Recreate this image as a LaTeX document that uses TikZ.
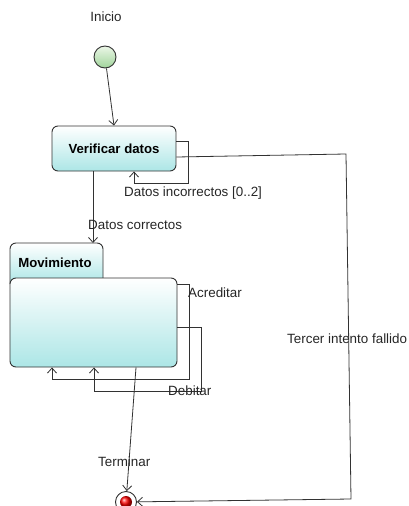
\documentclass[tikz,border=0pt]{standalone}
\usepackage{fontspec}
\setmainfont{Liberation Sans}
\usetikzlibrary{arrows.meta,calc}
\definecolor{edge}{RGB}{50,50,50}
\definecolor{cyanlow}{RGB}{172,230,230}
\definecolor{greenlow}{RGB}{160,212,155}
\definecolor{greenhigh}{RGB}{236,247,232}
\tikzset{
  x=1pt, y=-1pt,
  lbl/.style={font=\fontsize{13.4}{15}\selectfont, inner sep=0pt, anchor=west, text=black!85},
  statebox/.style={draw=edge, line width=0.9pt, rounded corners=6pt, top color=white, bottom color=cyanlow, font=\fontsize{13.2}{15}\selectfont\bfseries},
  arr/.style={draw=edge, line width=0.8pt, -{Straight Barb[length=5pt,width=9pt]}},
}
\begin{document}
\begin{tikzpicture}
\useasboundingbox (0,0) rectangle (409,506);
% texts
\node[lbl, anchor=center] (tinicio) at (106,17) {Inicio};
% initial
\node[circle, draw=edge, line width=0.9pt, minimum size=22pt, inner sep=0pt, top color=greenhigh, bottom color=greenlow] (ini) at (105,57) {};
% Verificar
\node[statebox, minimum width=124pt, minimum height=45pt, inner sep=0pt] (verif) at (114,148.5) {Verificar datos};
% Movimiento tab
\path[draw=edge, line width=0.9pt, top color=white, bottom color=cyanlow, rounded corners=6pt] (10,284) -- (10,243) -- (103,243) -- (103,284);
\node[font=\fontsize{13.2}{15}\selectfont\bfseries, inner sep=0pt] (movtab) at (55,263) {Movimiento};
\coordinate (movtop) at (93,243);
% Movimiento body
\node[statebox, minimum width=167pt, minimum height=89pt, inner sep=0pt] (mov) at (93.5,322.5) {};
% final
\node[circle, draw=edge, line width=0.9pt, fill=white, minimum size=21pt, inner sep=0pt] (fin) at (126,502) {};
\shade[ball color=red] (fin.center) circle (6pt);

% connectors
\draw[arr] (ini) -- (verif.north -| 114,0);
\draw[arr] (verif.east |- 0,141) -- (188,141) -- (188,183) -- (134,183) -- (verif.south -| 134,0);
\node[lbl] (tinc) at (124,193) {Datos incorrectos [0..2]};
\draw[arr] (verif.south -| 93,0) -- (movtop);
\node[lbl] (tcorr) at (88,225) {Datos correctos};
\draw[arr] (mov.east |- 0,284) -- (189,284) -- (189,379) -- (52,379) -- (mov.south -| 52,0);
\node[lbl] (tacr) at (188,293) {Acreditar};
\draw[arr] (mov.east |- 0,327) -- (201,327) -- (201,391) -- (94,391) -- (mov.south -| 94,0);
\node[lbl] (tdeb) at (168,391) {Debitar};
\draw[arr] (mov.south -| 136,0) -- (fin);
\node[lbl] (tterm) at (98,462) {Terminar};
\coordinate (c1) at (346,154);
\coordinate (c2) at (351,499);
\draw[arr] (verif.east |- 0,157) -- (c1) -- (c2) -- (fin);
\node[lbl] (tterc) at (287,339) {Tercer intento fallido};
\end{tikzpicture}
\end{document}
